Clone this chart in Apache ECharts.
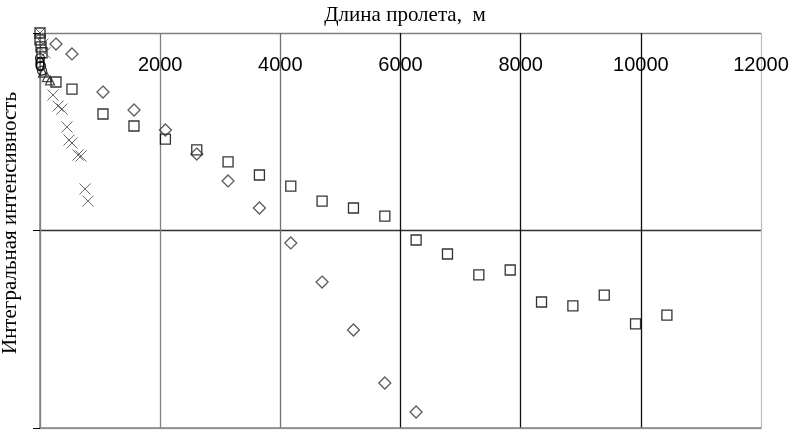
<!DOCTYPE html>
<html><head><meta charset="utf-8">
<script src="https://cdn.jsdelivr.net/npm/echarts@6/dist/echarts.min.js"></script>
<style>html,body{margin:0;padding:0;background:#fff}#c{width:798px;height:443px}</style>
</head><body><div id="c"></div>
<script>
// X tick labels
const xTicks = [0, 2000, 4000, 6000, 8000, 10000, 12000];
// Squares series [span length, integral intensity]
const squareX = [0, 0, 17, 33, 266, 532, 1048, 1564, 2087, 2609, 3130, 3652, 4174, 4695, 5217, 5739, 6260, 6782, 7304, 7826, 8347, 8869, 9391, 9912, 10434];
const squareY = [2.0, 1.965, 1.93, 1.90, 1.752, 1.716, 1.590, 1.529, 1.463, 1.408, 1.347, 1.281, 1.225, 1.149, 1.114, 1.073, 0.952, 0.881, 0.775, 0.800, 0.638, 0.618, 0.673, 0.527, 0.572];
// Diamonds series
const diamondX = [266, 532, 1048, 1565, 2087, 2609, 3130, 3652, 4174, 4695, 5217, 5739, 6260];
const diamondY = [1.944, 1.894, 1.701, 1.610, 1.509, 1.387, 1.251, 1.114, 0.937, 0.739, 0.496, 0.228, 0.081];
// Crosses series
const crossX = [0, 50, 83, 216, 300, 366, 449, 483, 532, 632, 682, 749, 799];
const crossY = [2.0, 1.944, 1.90, 1.686, 1.630, 1.615, 1.524, 1.458, 1.443, 1.382, 1.377, 1.210, 1.149];
// Triangles series
const triX = [50, 116, 166];
const triY = [1.80, 1.777, 1.76];
// Circles series
const circX = [0, 17, 33];
const circY = [1.873, 1.833, 1.81];

const zip = (a, b) => a.map((v, i) => [v, b[i]]);
const chart = echarts.init(document.getElementById('c'));
const sans = 'Liberation Sans';
const hollow = (c) => ({ color: 'rgba(0,0,0,0)', borderColor: c, borderWidth: 1.3 });
chart.setOption({
  animation: false,
  backgroundColor: '#fff',
  grid: { left: 40, top: 33, right: 37, bottom: 15, show: false },
  xAxis: {
    type: 'value', position: 'top', min: 0, max: 12000, interval: 2000,
    axisLine: { show: true, lineStyle: { color: '#808080', width: 1.5 } },
    axisTick: { show: false },
    axisLabel: { inside: true, margin: 22, fontFamily: sans, fontSize: 20, color: '#000',
      formatter: v => xTicks.includes(v) ? String(v) : '' },
    splitLine: { show: true, lineStyle: { color: ['#808080', '#808080', '#707070', '#111', '#111', '#111', '#c0c0c0'], width: 1.3 } }
  },
  yAxis: {
    type: 'value', min: 0, max: 2, interval: 1,
    axisLine: { show: true, lineStyle: { color: '#808080', width: 1.5 } },
    axisTick: { show: true, inside: false, length: 7, lineStyle: { color: '#000' } },
    axisLabel: { show: false },
    splitLine: { show: true, lineStyle: { color: ['#c0c0c0', '#333', '#808080'], width: 1.3 } }
  },
  graphic: [
    { type: 'text', x: 405, y: 15, style: { text: 'Длина пролета,  м', font: '21px "Liberation Serif"', fill: '#000', align: 'center', verticalAlign: 'middle' } },
    { type: 'text', x: 10, y: 223, rotation: Math.PI / 2, style: { text: 'Интегральная интенсивность', font: '21px "Liberation Serif"', fill: '#000', align: 'center', verticalAlign: 'middle' } }
  ],
  series: [
    { type: 'scatter', data: zip(squareX, squareY), symbol: 'rect', symbolSize: 10, itemStyle: hollow('#000') },
    { type: 'scatter', data: zip(diamondX, diamondY), symbol: 'diamond', symbolSize: [12, 12], itemStyle: hollow('#333') },
    { type: 'scatter', data: zip(crossX, crossY), symbol: 'path://M0,0L10,10M10,0L0,10', symbolSize: 11, itemStyle: { color: 'none', borderColor: '#444', borderWidth: 1 } },
    { type: 'scatter', data: zip(triX, triY), symbol: 'triangle', symbolSize: 9, itemStyle: hollow('#222') },
    { type: 'scatter', data: zip(circX, circY), symbol: 'circle', symbolSize: 9, itemStyle: hollow('#000') }
  ]
});
</script></body></html>
